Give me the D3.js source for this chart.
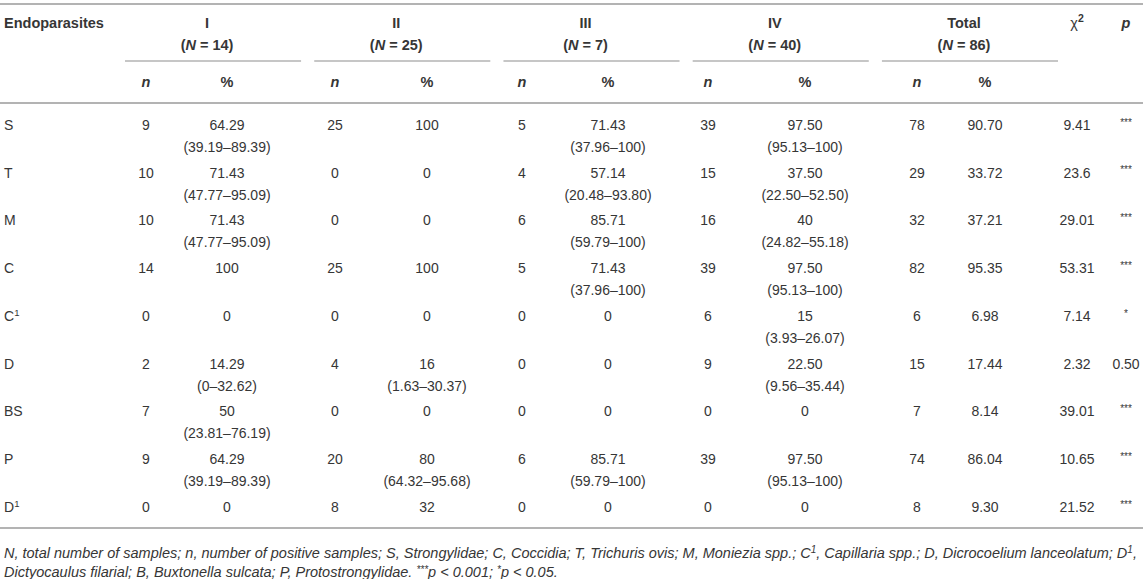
<!DOCTYPE html>
<html lang="en">
<head>
<meta charset="UTF-8">
<title>Endoparasites by group</title>
<script src="https://d3js.org/d3.v7.min.js"></script>
<style>
    body { margin: 0; background: #fff; }
    svg text { font-family: "Liberation Sans", Arial, sans-serif; fill: #363636; }
</style>
</head>
<body>
<svg id="table" width="1146" height="579"></svg>
<script>
const parasites = ["S", "T", "M", "C", "C1", "D", "BS", "P", "D1"];
const groupNames = ["I", "II", "III", "IV", "Total"];
const groupN = [14, 25, 7, 40, 86];

const nI = [9, 10, 10, 14, 0, 2, 7, 9, 0];
const pctI = ["64.29", "71.43", "71.43", "100", "0", "14.29", "50", "64.29", "0"];
const ciI = ["39.19–89.39", "47.77–95.09", "47.77–95.09", "", "", "0–32.62", "23.81–76.19", "39.19–89.39", ""];

const nII = [25, 0, 0, 25, 0, 4, 0, 20, 8];
const pctII = ["100", "0", "0", "100", "0", "16", "0", "80", "32"];
const ciII = ["", "", "", "", "", "1.63–30.37", "", "64.32–95.68", ""];

const nIII = [5, 4, 6, 5, 0, 0, 0, 6, 0];
const pctIII = ["71.43", "57.14", "85.71", "71.43", "0", "0", "0", "85.71", "0"];
const ciIII = ["37.96–100", "20.48–93.80", "59.79–100", "37.96–100", "", "", "", "59.79–100", ""];

const nIV = [39, 15, 16, 39, 6, 9, 0, 39, 0];
const pctIV = ["97.50", "37.50", "40", "97.50", "15", "22.50", "0", "97.50", "0"];
const ciIV = ["95.13–100", "22.50–52.50", "24.82–55.18", "95.13–100", "3.93–26.07", "9.56–35.44", "", "95.13–100", ""];

const nTotal = [78, 29, 32, 82, 6, 15, 7, 74, 8];
const pctTotal = ["90.70", "33.72", "37.21", "95.35", "6.98", "17.44", "8.14", "86.04", "9.30"];

const chi2 = ["9.41", "23.6", "29.01", "53.31", "7.14", "2.32", "39.01", "10.65", "21.52"];
const pValues = ["***", "***", "***", "***", "*", "0.50", "***", "***", "***"];

// ---- layout ----
const fs = 14, fsHead = 14.5, lineH = 22;
const svg = d3.select("#table");

const colKeys = ["n0", "p0", "n1", "p1", "n2", "p2", "n3", "p3", "n4", "p4", "chi", "pv"];
const colX = d3.scaleOrdinal()
    .domain(colKeys)
    .range([146, 227, 335, 427, 522, 608, 708, 805, 917, 985, 1077, 1126]);

// group spans under the header
const groupX = d3.scaleBand()
    .domain(groupNames)
    .range([125, 1045 + 13])
    .paddingInner(13 / 187);

const rowY = d3.scalePoint()
    .domain(parasites)
    .range([125, 507]);

const ruleColor = "#b3b3b3";

function hline(y, x1, x2, w) {
    svg.append("line")
        .attr("x1", x1).attr("x2", x2)
        .attr("y1", y).attr("y2", y)
        .attr("stroke", ruleColor)
        .attr("stroke-width", w);
}

// label with trailing digit as superscript (C1 -> C¹)
function withSup(sel, label) {
    const m = label.match(/^([A-Z]+)(\d)$/);
    if (m) {
        sel.append("tspan").text(m[1]);
        sel.append("tspan").attr("font-size", 9.5).attr("dy", -5).text(m[2]);
    } else {
        sel.text(label);
    }
}

// rules
hline(4, 0, 1143, 2);
hline(103, 0, 1143, 2);
hline(528, 0, 1143, 2);
groupNames.forEach(g => hline(61, groupX(g), groupX(g) + groupX.bandwidth(), 1.5));

// header
svg.append("text")
    .attr("x", 4).attr("y", 23).attr("dy", "0.35em")
    .attr("font-size", fsHead).attr("font-weight", "bold")
    .text("Endoparasites");

groupNames.forEach((g, i) => {
    const cx = groupX(g) + groupX.bandwidth() / 2 - 6;
    svg.append("text")
        .attr("x", cx).attr("y", 23).attr("dy", "0.35em")
        .attr("text-anchor", "middle")
        .attr("font-size", fsHead).attr("font-weight", "bold")
        .text(g);
    const t = svg.append("text")
        .attr("x", cx).attr("y", 45).attr("dy", "0.35em")
        .attr("text-anchor", "middle")
        .attr("font-size", fsHead).attr("font-weight", "bold");
    t.append("tspan").text("(");
    t.append("tspan").attr("font-style", "italic").text("N");
    t.append("tspan").text(" = " + groupN[i] + ")");

    svg.append("text")
        .attr("x", colX("n" + i)).attr("y", 82).attr("dy", "0.35em")
        .attr("text-anchor", "middle")
        .attr("font-size", fsHead).attr("font-weight", "bold").attr("font-style", "italic")
        .text("n");
    svg.append("text")
        .attr("x", colX("p" + i)).attr("y", 82).attr("dy", "0.35em")
        .attr("text-anchor", "middle")
        .attr("font-size", fsHead).attr("font-weight", "bold")
        .text("%");
});

const chiHead = svg.append("text")
    .attr("x", colX("chi")).attr("y", 23).attr("dy", "0.35em")
    .attr("text-anchor", "middle")
    .attr("font-size", fsHead);
chiHead.append("tspan").text("χ");
chiHead.append("tspan").attr("font-size", 10.5).attr("font-weight", "bold").attr("dy", -6).text("2");

svg.append("text")
    .attr("x", colX("pv")).attr("y", 23).attr("dy", "0.35em")
    .attr("text-anchor", "middle")
    .attr("font-size", fsHead).attr("font-weight", "bold").attr("font-style", "italic")
    .text("p");

// body
const groupsData = [
    [nI, pctI, ciI],
    [nII, pctII, ciII],
    [nIII, pctIII, ciIII],
    [nIV, pctIV, ciIV],
    [nTotal, pctTotal, null]
];

parasites.forEach((name, r) => {
    const y = rowY(name);
    withSup(svg.append("text")
        .attr("x", 4).attr("y", y).attr("dy", "0.35em")
        .attr("font-size", fs), name);

    groupsData.forEach(([ns, ps, cis], i) => {
        svg.append("text")
            .attr("x", colX("n" + i)).attr("y", y).attr("dy", "0.35em")
            .attr("text-anchor", "middle").attr("font-size", fs)
            .text(ns[r]);
        svg.append("text")
            .attr("x", colX("p" + i)).attr("y", y).attr("dy", "0.35em")
            .attr("text-anchor", "middle").attr("font-size", fs)
            .text(ps[r]);
        if (cis && cis[r]) {
            svg.append("text")
                .attr("x", colX("p" + i)).attr("y", y + lineH).attr("dy", "0.35em")
                .attr("text-anchor", "middle").attr("font-size", fs)
                .text("(" + cis[r] + ")");
        }
    });

    svg.append("text")
        .attr("x", colX("chi")).attr("y", y).attr("dy", "0.35em")
        .attr("text-anchor", "middle").attr("font-size", fs)
        .text(chi2[r]);

    const isStars = pValues[r].startsWith("*");
    svg.append("text")
        .attr("x", colX("pv")).attr("y", isStars ? y - 3 : y).attr("dy", "0.35em")
        .attr("text-anchor", "middle")
        .attr("font-size", isStars ? 10 : fs)
        .text(pValues[r]);
});

// footnote, sized so the first line spans the table width
const fn1 = svg.append("text")
    .attr("x", 4).attr("y", 553).attr("dy", "0.35em")
    .attr("font-size", 14).attr("font-style", "italic");
fn1.append("tspan").text("N, total number of samples; n, number of positive samples; S, Strongylidae; C, Coccidia; T, Trichuris ovis; M, Moniezia spp.; C");
fn1.append("tspan").attr("font-size", 10).attr("dy", -5).text("1");
fn1.append("tspan").attr("dy", 5).text(", Capillaria spp.; D, Dicrocoelium lanceolatum; D");
fn1.append("tspan").attr("font-size", 10).attr("dy", -5).text("1");
fn1.append("tspan").attr("dy", 5).text(",");

const fsNote = Math.min(15, 14 * 1134 / fn1.node().getComputedTextLength());
fn1.attr("font-size", fsNote);

const fn2 = svg.append("text")
    .attr("x", 4).attr("y", 572).attr("dy", "0.35em")
    .attr("font-size", fsNote).attr("font-style", "italic");
fn2.append("tspan").text("Dictyocaulus filarial; B, Buxtonella sulcata; P, Protostrongylidae. ");
fn2.append("tspan").attr("font-size", 10).attr("dy", -4).text("***");
fn2.append("tspan").attr("dy", 4).text("p < 0.001; ");
fn2.append("tspan").attr("font-size", 10).attr("dy", -4).text("*");
fn2.append("tspan").attr("dy", 4).text("p < 0.05.");
</script>
</body>
</html>
